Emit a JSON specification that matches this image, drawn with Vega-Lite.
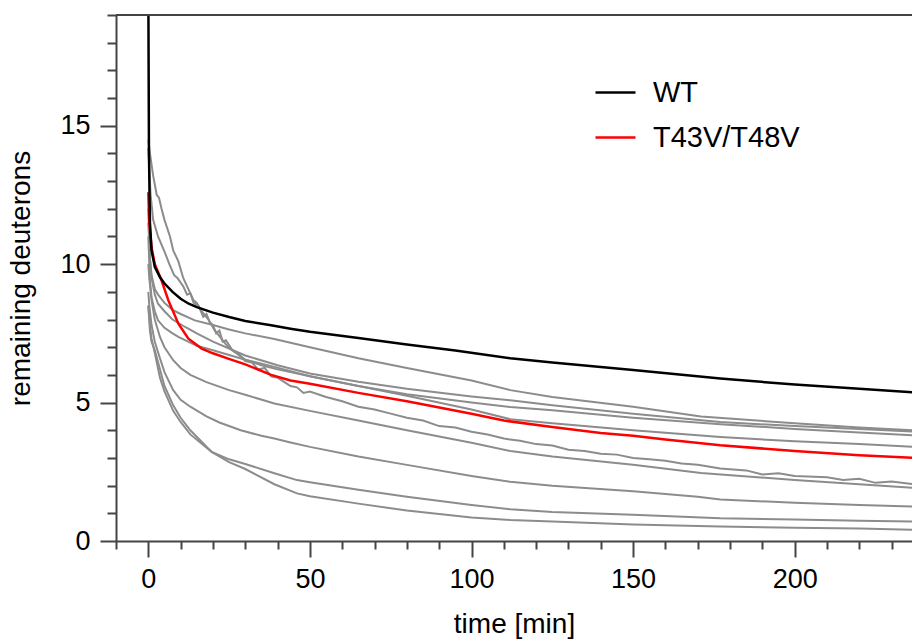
{
  "$schema": "https://vega.github.io/schema/vega-lite/v6.json",
  "width": 796,
  "height": 526,
  "autosize": {"type": "none"},
  "padding": {"left": 116, "top": 15, "right": 0, "bottom": 98},
  "background": "white",
  "config": {
    "view": {"stroke": null},
    "font": "Liberation Sans",
    "axis": {
      "grid": false,
      "domainColor": "#444444",
      "domainWidth": 2,
      "tickColor": "#444444",
      "tickWidth": 2,
      "labelColor": "#000000",
      "titleColor": "#000000",
      "labelFont": "Liberation Sans",
      "titleFont": "Liberation Sans",
      "labelFontSize": 27,
      "titleFontSize": 28,
      "titleFontWeight": "normal",
      "labelFlush": false,
      "labelOverlap": false
    }
  },
  "datasets": {
    "gray": [
      {"s":"g1","t":0,"v":11.5},{"s":"g1","t":0.5,"v":10.2},{"s":"g1","t":1,"v":9.6},{"s":"g1","t":2,"v":9.1},{"s":"g1","t":3,"v":8.9},{"s":"g1","t":5,"v":8.6},{"s":"g1","t":7.5,"v":8.35},{"s":"g1","t":10,"v":8.2},{"s":"g1","t":14.4,"v":7.97},{"s":"g1","t":20,"v":7.8},{"s":"g1","t":24.7,"v":7.65},{"s":"g1","t":30,"v":7.5},{"s":"g1","t":39,"v":7.3},{"s":"g1","t":50,"v":7.0},{"s":"g1","t":65,"v":6.6},{"s":"g1","t":80,"v":6.25},{"s":"g1","t":100,"v":5.8},{"s":"g1","t":112,"v":5.45},{"s":"g1","t":125,"v":5.2},{"s":"g1","t":150,"v":4.85},{"s":"g1","t":171,"v":4.5},{"s":"g1","t":200,"v":4.25},{"s":"g1","t":220,"v":4.1},{"s":"g1","t":237,"v":4.0},

      {"s":"g2","t":0,"v":12},{"s":"g2","t":0.5,"v":10.2},{"s":"g2","t":1,"v":9.5},{"s":"g2","t":2,"v":8.9},{"s":"g2","t":3,"v":8.57},{"s":"g2","t":5,"v":8.3},{"s":"g2","t":7.5,"v":8.0},{"s":"g2","t":11.4,"v":7.73},{"s":"g2","t":15,"v":7.5},{"s":"g2","t":20,"v":7.2},{"s":"g2","t":30,"v":6.7},{"s":"g2","t":40,"v":6.35},{"s":"g2","t":50,"v":6.05},{"s":"g2","t":65,"v":5.75},{"s":"g2","t":80,"v":5.5},{"s":"g2","t":100,"v":5.22},{"s":"g2","t":112,"v":5.08},{"s":"g2","t":125,"v":4.9},{"s":"g2","t":150,"v":4.6},{"s":"g2","t":177,"v":4.3},{"s":"g2","t":200,"v":4.15},{"s":"g2","t":220,"v":4.05},{"s":"g2","t":237,"v":3.95},

      {"s":"h1","t":0,"v":14.5},{"s":"h1","t":0.5,"v":14.0},{"s":"h1","t":1.5,"v":13.2},{"s":"h1","t":2.6,"v":12.5},{"s":"h1","t":3.3,"v":12.4},{"s":"h1","t":4.1,"v":12.0},{"s":"h1","t":5,"v":11.6},{"s":"h1","t":6.7,"v":11.0},{"s":"h1","t":7.7,"v":10.5},{"s":"h1","t":9.3,"v":10.1},{"s":"h1","t":10.8,"v":9.5},{"s":"h1","t":12,"v":9.2},{"s":"h1","t":14,"v":8.7},{"s":"h1","t":15,"v":8.6},{"s":"h1","t":16.5,"v":8.3},{"s":"h1","t":18.6,"v":8.0},{"s":"h1","t":20.6,"v":7.6},{"s":"h1","t":22,"v":7.4},{"s":"h1","t":24,"v":7.1},{"s":"h1","t":25.8,"v":6.9},{"s":"h1","t":30,"v":6.55},{"s":"h1","t":35,"v":6.35},{"s":"h1","t":40,"v":6.2},{"s":"h1","t":44,"v":6.1},{"s":"h1","t":50,"v":5.95},{"s":"h1","t":65,"v":5.6},{"s":"h1","t":80,"v":5.3},{"s":"h1","t":100,"v":5.0},{"s":"h1","t":112,"v":4.84},{"s":"h1","t":125,"v":4.72},{"s":"h1","t":150,"v":4.45},{"s":"h1","t":177,"v":4.22},{"s":"h1","t":200,"v":4.05},{"s":"h1","t":220,"v":3.92},{"s":"h1","t":237,"v":3.82},

      {"s":"h2","t":0,"v":14.2},{"s":"h2","t":0.7,"v":12.5},{"s":"h2","t":1.5,"v":11.6},{"s":"h2","t":3,"v":11.0},{"s":"h2","t":5.2,"v":10.4},{"s":"h2","t":6.5,"v":10.0},{"s":"h2","t":8,"v":9.6},{"s":"h2","t":9,"v":9.5},{"s":"h2","t":10.8,"v":9.2},{"s":"h2","t":12,"v":8.9},{"s":"h2","t":13,"v":8.95},{"s":"h2","t":14,"v":8.6},{"s":"h2","t":15.5,"v":8.5},{"s":"h2","t":17,"v":8.1},{"s":"h2","t":18,"v":8.2},{"s":"h2","t":19,"v":7.9},{"s":"h2","t":20,"v":7.8},{"s":"h2","t":21,"v":7.5},{"s":"h2","t":22,"v":7.6},{"s":"h2","t":23,"v":7.2},{"s":"h2","t":24,"v":7.25},{"s":"h2","t":26,"v":6.9},{"s":"h2","t":28,"v":6.75},{"s":"h2","t":30,"v":6.5},{"s":"h2","t":32,"v":6.45},{"s":"h2","t":34,"v":6.2},{"s":"h2","t":36,"v":6.25},{"s":"h2","t":38,"v":5.95},{"s":"h2","t":40,"v":5.9},{"s":"h2","t":42,"v":5.75},{"s":"h2","t":44,"v":5.6},{"s":"h2","t":46,"v":5.55},{"s":"h2","t":48,"v":5.35},{"s":"h2","t":50,"v":5.4},{"s":"h2","t":55,"v":5.2},{"s":"h2","t":60,"v":5.05},{"s":"h2","t":65,"v":4.85},{"s":"h2","t":70,"v":4.75},{"s":"h2","t":75,"v":4.6},{"s":"h2","t":80,"v":4.45},{"s":"h2","t":85,"v":4.35},{"s":"h2","t":90,"v":4.15},{"s":"h2","t":95,"v":4.1},{"s":"h2","t":100,"v":3.95},{"s":"h2","t":105,"v":3.85},{"s":"h2","t":110,"v":3.7},{"s":"h2","t":115,"v":3.62},{"s":"h2","t":120,"v":3.5},{"s":"h2","t":125,"v":3.45},{"s":"h2","t":130,"v":3.3},{"s":"h2","t":135,"v":3.25},{"s":"h2","t":140,"v":3.15},{"s":"h2","t":145,"v":3.12},{"s":"h2","t":150,"v":3.0},{"s":"h2","t":155,"v":2.95},{"s":"h2","t":160,"v":2.9},{"s":"h2","t":165,"v":2.8},{"s":"h2","t":170,"v":2.75},{"s":"h2","t":177,"v":2.62},{"s":"h2","t":185,"v":2.55},{"s":"h2","t":190,"v":2.4},{"s":"h2","t":195,"v":2.45},{"s":"h2","t":200,"v":2.35},{"s":"h2","t":210,"v":2.3},{"s":"h2","t":215,"v":2.2},{"s":"h2","t":220,"v":2.25},{"s":"h2","t":225,"v":2.1},{"s":"h2","t":230,"v":2.15},{"s":"h2","t":237,"v":2.05},

      {"s":"g4","t":0,"v":11},{"s":"g4","t":0.5,"v":9.4},{"s":"g4","t":1,"v":8.8},{"s":"g4","t":2,"v":8.3},{"s":"g4","t":3,"v":7.97},{"s":"g4","t":5,"v":7.7},{"s":"g4","t":7.5,"v":7.5},{"s":"g4","t":9.3,"v":7.37},{"s":"g4","t":15,"v":7.05},{"s":"g4","t":20,"v":6.89},{"s":"g4","t":30,"v":6.55},{"s":"g4","t":39,"v":6.29},{"s":"g4","t":50,"v":5.95},{"s":"g4","t":65,"v":5.6},{"s":"g4","t":80,"v":5.25},{"s":"g4","t":100,"v":4.75},{"s":"g4","t":112,"v":4.4},{"s":"g4","t":125,"v":4.25},{"s":"g4","t":150,"v":4.0},{"s":"g4","t":177,"v":3.76},{"s":"g4","t":200,"v":3.6},{"s":"g4","t":220,"v":3.5},{"s":"g4","t":237,"v":3.4},

      {"s":"g6","t":0,"v":10},{"s":"g6","t":0.3,"v":9.5},{"s":"g6","t":1,"v":8.7},{"s":"g6","t":2,"v":8.0},{"s":"g6","t":3.6,"v":7.37},{"s":"g6","t":5,"v":7.0},{"s":"g6","t":7.7,"v":6.53},{"s":"g6","t":10,"v":6.25},{"s":"g6","t":13,"v":6.0},{"s":"g6","t":18,"v":5.74},{"s":"g6","t":25,"v":5.45},{"s":"g6","t":30,"v":5.28},{"s":"g6","t":39,"v":4.97},{"s":"g6","t":50,"v":4.7},{"s":"g6","t":65,"v":4.35},{"s":"g6","t":80,"v":4.0},{"s":"g6","t":100,"v":3.55},{"s":"g6","t":112,"v":3.25},{"s":"g6","t":125,"v":3.05},{"s":"g6","t":150,"v":2.75},{"s":"g6","t":171,"v":2.46},{"s":"g6","t":200,"v":2.2},{"s":"g6","t":220,"v":2.05},{"s":"g6","t":237,"v":1.92},

      {"s":"g7","t":0,"v":9},{"s":"g7","t":0.3,"v":8.5},{"s":"g7","t":1,"v":7.8},{"s":"g7","t":2,"v":7.2},{"s":"g7","t":3.6,"v":6.6},{"s":"g7","t":5,"v":6.1},{"s":"g7","t":7.7,"v":5.45},{"s":"g7","t":10,"v":5.1},{"s":"g7","t":13,"v":4.85},{"s":"g7","t":18,"v":4.5},{"s":"g7","t":22,"v":4.28},{"s":"g7","t":28.6,"v":4.0},{"s":"g7","t":35,"v":3.8},{"s":"g7","t":39,"v":3.7},{"s":"g7","t":44,"v":3.56},{"s":"g7","t":50,"v":3.4},{"s":"g7","t":65,"v":3.05},{"s":"g7","t":80,"v":2.75},{"s":"g7","t":100,"v":2.35},{"s":"g7","t":112,"v":2.14},{"s":"g7","t":125,"v":2.0},{"s":"g7","t":150,"v":1.8},{"s":"g7","t":170,"v":1.6},{"s":"g7","t":177,"v":1.5},{"s":"g7","t":200,"v":1.38},{"s":"g7","t":220,"v":1.3},{"s":"g7","t":237,"v":1.24},

      {"s":"g8","t":0,"v":8.5},{"s":"g8","t":0.5,"v":7.8},{"s":"g8","t":1,"v":7.3},{"s":"g8","t":2,"v":6.8},{"s":"g8","t":3.6,"v":5.9},{"s":"g8","t":5,"v":5.4},{"s":"g8","t":7.7,"v":4.7},{"s":"g8","t":10,"v":4.3},{"s":"g8","t":13,"v":3.85},{"s":"g8","t":19.6,"v":3.22},{"s":"g8","t":25,"v":2.95},{"s":"g8","t":30,"v":2.78},{"s":"g8","t":39,"v":2.45},{"s":"g8","t":46,"v":2.2},{"s":"g8","t":50,"v":2.12},{"s":"g8","t":65,"v":1.85},{"s":"g8","t":80,"v":1.6},{"s":"g8","t":100,"v":1.3},{"s":"g8","t":112,"v":1.15},{"s":"g8","t":125,"v":1.05},{"s":"g8","t":150,"v":0.95},{"s":"g8","t":177,"v":0.82},{"s":"g8","t":200,"v":0.78},{"s":"g8","t":220,"v":0.73},{"s":"g8","t":237,"v":0.7},

      {"s":"g9","t":0,"v":8.5},{"s":"g9","t":0.5,"v":7.6},{"s":"g9","t":1,"v":7.2},{"s":"g9","t":2,"v":6.9},{"s":"g9","t":3.6,"v":6.2},{"s":"g9","t":5,"v":5.6},{"s":"g9","t":7.7,"v":4.9},{"s":"g9","t":10,"v":4.45},{"s":"g9","t":13,"v":4.0},{"s":"g9","t":19.6,"v":3.22},{"s":"g9","t":25,"v":2.85},{"s":"g9","t":30,"v":2.6},{"s":"g9","t":39,"v":2.05},{"s":"g9","t":46,"v":1.72},{"s":"g9","t":50,"v":1.62},{"s":"g9","t":65,"v":1.35},{"s":"g9","t":80,"v":1.1},{"s":"g9","t":100,"v":0.85},{"s":"g9","t":112,"v":0.76},{"s":"g9","t":125,"v":0.7},{"s":"g9","t":150,"v":0.6},{"s":"g9","t":177,"v":0.52},{"s":"g9","t":200,"v":0.48},{"s":"g9","t":220,"v":0.45},{"s":"g9","t":237,"v":0.4}
    ],
    "main": [
      {"s":"T43V/T48V","t":0,"v":12.6},{"s":"T43V/T48V","t":0.3,"v":11.5},{"s":"T43V/T48V","t":1,"v":10.6},{"s":"T43V/T48V","t":2,"v":10.0},{"s":"T43V/T48V","t":4.1,"v":9.41},{"s":"T43V/T48V","t":6.2,"v":8.69},{"s":"T43V/T48V","t":9.3,"v":7.85},{"s":"T43V/T48V","t":12.4,"v":7.31},{"s":"T43V/T48V","t":16.5,"v":6.95},{"s":"T43V/T48V","t":20,"v":6.78},{"s":"T43V/T48V","t":24.7,"v":6.59},{"s":"T43V/T48V","t":30,"v":6.38},{"s":"T43V/T48V","t":38,"v":6.0},{"s":"T43V/T48V","t":44,"v":5.8},{"s":"T43V/T48V","t":50,"v":5.68},{"s":"T43V/T48V","t":65,"v":5.35},{"s":"T43V/T48V","t":80,"v":5.05},{"s":"T43V/T48V","t":100,"v":4.6},{"s":"T43V/T48V","t":110,"v":4.35},{"s":"T43V/T48V","t":125,"v":4.12},{"s":"T43V/T48V","t":140,"v":3.9},{"s":"T43V/T48V","t":150,"v":3.8},{"s":"T43V/T48V","t":160,"v":3.67},{"s":"T43V/T48V","t":177,"v":3.46},{"s":"T43V/T48V","t":200,"v":3.25},{"s":"T43V/T48V","t":220,"v":3.1},{"s":"T43V/T48V","t":237,"v":3.0},

      {"s":"WT","t":0,"v":20},{"s":"WT","t":0.2,"v":14},{"s":"WT","t":0.5,"v":11.5},{"s":"WT","t":1,"v":10.5},{"s":"WT","t":2,"v":9.9},{"s":"WT","t":3.5,"v":9.55},{"s":"WT","t":5,"v":9.3},{"s":"WT","t":7.5,"v":9.0},{"s":"WT","t":10,"v":8.75},{"s":"WT","t":12.5,"v":8.57},{"s":"WT","t":15,"v":8.45},{"s":"WT","t":20,"v":8.25},{"s":"WT","t":25,"v":8.09},{"s":"WT","t":30,"v":7.95},{"s":"WT","t":38,"v":7.79},{"s":"WT","t":44,"v":7.67},{"s":"WT","t":50,"v":7.56},{"s":"WT","t":65,"v":7.33},{"s":"WT","t":80,"v":7.1},{"s":"WT","t":95,"v":6.88},{"s":"WT","t":112,"v":6.6},{"s":"WT","t":125,"v":6.45},{"s":"WT","t":150,"v":6.18},{"s":"WT","t":177,"v":5.87},{"s":"WT","t":200,"v":5.65},{"s":"WT","t":220,"v":5.5},{"s":"WT","t":237,"v":5.37}
    ]
  },
  "layer": [
    {
      "data": {"name": "gray"},
      "mark": {"type": "line", "color": "#8c8c8c", "strokeWidth": 2, "clip": true},
      "encoding": {
        "x": {
          "field": "t", "type": "quantitative",
          "scale": {"domain": [-10, 236.3], "nice": false, "zero": false},
          "axis": {
            "title": "time [min]",
            "values": [-10,0,10,20,30,40,50,60,70,80,90,100,110,120,130,140,150,160,170,180,190,200,210,220,230],
            "tickCount": 200,
            "format": "d",
            "labelExpr": "datum.value % 50 === 0 ? datum.label : ''",
            "tickSize": {"condition": {"test": "datum.value % 50 === 0", "value": 16}, "value": 8},
            "labelPadding": 9,
            "titlePadding": 18
          }
        },
        "y": {
          "field": "v", "type": "quantitative",
          "scale": {"domain": [0, 19], "nice": false, "zero": true},
          "axis": {
            "title": "remaining deuterons",
            "values": [0,1,2,3,4,5,6,7,8,9,10,11,12,13,14,15,16,17,18,19],
            "tickCount": 200,
            "format": "d",
            "labelExpr": "datum.value % 5 === 0 ? datum.label : ''",
            "tickSize": {"condition": {"test": "datum.value % 5 === 0", "value": 16}, "value": 9},
            "labelPadding": 10,
            "titlePadding": 24
          }
        },
        "detail": {"field": "s", "type": "nominal"}
      }
    },
    {
      "data": {"name": "main"},
      "mark": {"type": "line", "strokeWidth": 2.5, "clip": true},
      "encoding": {
        "x": {"field": "t", "type": "quantitative"},
        "y": {"field": "v", "type": "quantitative"},
        "color": {
          "field": "s", "type": "nominal",
          "scale": {"domain": ["WT", "T43V/T48V"], "range": ["#000000", "#ff0000"]},
          "legend": {
            "orient": "none",
            "legendX": 478,
            "legendY": 56,
            "title": null,
            "symbolType": "stroke",
            "symbolSize": 1600,
            "symbolStrokeWidth": 2.5,
            "labelFontSize": 29,
            "labelFont": "Liberation Sans",
            "labelColor": "#000000",
            "labelOffset": 16,
            "rowPadding": 8
          }
        }
      }
    },
    {
      "data": {"values": [{}]},
      "mark": {"type": "rule", "color": "#444444", "strokeWidth": 2},
      "encoding": {"y": {"datum": 19}}
    }
  ]
}
